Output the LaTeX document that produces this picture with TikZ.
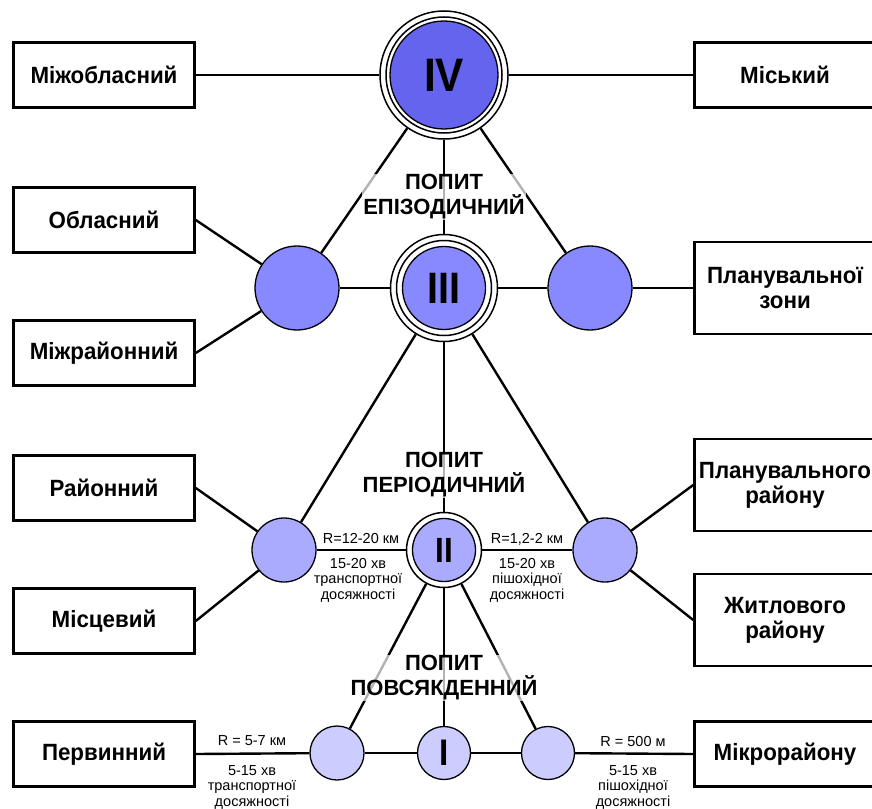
\documentclass[tikz,border=0pt]{standalone}
\usepackage{fontspec}
\setmainfont{Liberation Sans}
\newfontfamily\boxfont[FakeStretch=0.95]{Liberation Sans}
\newfontfamily\romfont[FakeStretch=0.9]{Liberation Sans}
\usetikzlibrary{backgrounds}
\definecolor{cIV}{RGB}{100,100,238}
\definecolor{cIII}{RGB}{136,136,255}
\definecolor{cII}{RGB}{170,170,255}
\definecolor{cI}{RGB}{204,204,255}
\begin{document}
\begin{tikzpicture}[x=1pt,y=-1pt,
  box/.style={draw, line width=2.6pt, fill=white, minimum width=181pt, minimum height=65pt, inner sep=0pt, align=center, font=\boxfont\bfseries\fontsize{23.5}{25}\selectfont},
  tall/.style={minimum height=92pt},
  conn/.style={line width=2.4pt},
  disc/.style={circle, draw, line width=1.3pt, inner sep=0pt},
  ring/.style={circle, draw, line width=1.5pt, fill=white, inner sep=0pt},
  demand/.style={align=center, font=\bfseries\fontsize{22}{25}\selectfont, fill=white, fill opacity=0.7, text opacity=1, inner sep=1pt},
  note/.style={align=center, font=\fontsize{14.5}{15.5}\selectfont, inner sep=0pt},
  roman/.style={font=\romfont\bfseries\fontsize{#1}{#1}\selectfont}
]
\path[use as bounding box] (0,0) rectangle (872,808);

% boxes
\node[box] (mizhobl) at (104,75) {Міжобласний};
\node[box] (misky) at (785,75) {Міський};
\node[box] (oblasny) at (104,220) {Обласний};
\node[box] (mizhrayon) at (104,353) {Міжрайонний};
\node[box,tall] (planzony) at (785,288) {Планувальної\\зони};
\node[box] (rayonny) at (104,488) {Районний};
\node[box] (mistsevy) at (104,621) {Місцевий};
\node[box,tall] (planrayonu) at (785,485) {Планувального\\району};
\node[box,tall] (zhytlovoho) at (785,620) {Житлового\\району};
\node[box] (pervynny) at (104,754) {Первинний};
\node[box] (mikro) at (785,754) {Мікрорайону};

% level IV
\node[ring, minimum size=128pt] (IV) at (444,75) {};
\draw[line width=1.5pt] (IV.center) circle (58pt);
\node[disc, fill=cIV, minimum size=108pt, roman=47] (IVc) at (IV) {IV};

% level III
\node[ring, minimum size=107pt] (III) at (444,288) {};
\draw[line width=1.5pt] (III.center) circle (47.5pt);
\node[disc, fill=cIII, minimum size=83pt, roman=44] (IIIc) at (III) {III};
\node[disc, fill=cIII, minimum size=84pt] (L3) at (297,288) {};
\node[disc, fill=cIII, minimum size=84pt] (R3) at (590,288) {};

% level II
\node[ring, minimum size=75pt] (II) at (444,550) {};
\node[disc, fill=cII, minimum size=63pt, roman=35] (IIc) at (II) {II};
\node[disc, fill=cII, minimum size=64pt] (L2) at (284,550) {};
\node[disc, fill=cII, minimum size=64pt] (R2) at (605,550) {};

% level I
\node[disc, fill=cI, minimum size=53pt, roman=37] (I) at (444,753) {I};
\node[disc, fill=cI, minimum size=54pt] (L1) at (337,753) {};
\node[disc, fill=cI, minimum size=53pt] (R1) at (548,753) {};

% connectors
\begin{scope}[on background layer]
\draw[conn] (IV) -- (mizhobl);
\draw[conn] (IV) -- (misky);
\draw[conn] (IV) -- (L3);
\draw[conn] (IV) -- (R3);
\draw[conn] (IV) -- (III);
\draw[conn] (oblasny.east) -- (L3);
\draw[conn] (mizhrayon.east) -- (L3);
\draw[conn] (L3) -- (III);
\draw[conn] (III) -- (R3);
\draw[conn] (R3) -- (planzony.west);
\draw[conn] (III) -- (L2);
\draw[conn] (III) -- (II);
\draw[conn] (III) -- (R2);
\draw[conn] (rayonny.east) -- (L2);
\draw[conn] (mistsevy.east) -- (L2);
\draw[conn] (L2) -- (II);
\draw[conn] (II) -- (R2);
\draw[conn] (R2) -- (planrayonu.west);
\draw[conn] (R2) -- (zhytlovoho.west);
\draw[conn] (II) -- (L1);
\draw[conn] (II) -- (I);
\draw[conn] (II) -- (R1);
\draw[conn] (pervynny.east) -- (L1);
\draw[conn] (L1) -- (I);
\draw[conn] (I) -- (R1);
\draw[conn] (R1) -- (mikro.west);
\end{scope}

% demand labels
\node[demand] (d3) at (444,197) {ПОПИТ\\ЕПІЗОДИЧНИЙ};
\node[demand] (d2) at (444,475) {ПОПИТ\\ПЕРІОДИЧНИЙ};
\node[demand] (d1) at (444,678) {ПОПИТ\\ПОВСЯКДЕННИЙ};

% notes
\node[note] (n2a) at (361,539) {R=12-20 км};
\node[note] (n2b) at (358,580) {15-20 хв\\транспортної\\досяжності};
\node[note] (n2c) at (527,539) {R=1,2-2 км};
\node[note] (n2d) at (527,580) {15-20 хв\\пішохідної\\досяжності};
\node[note] (n1a) at (252,741) {R = 5-7 км};
\node[note] (n1b) at (252,787) {5-15 хв\\транспортної\\досяжності};
\node[note] (n1c) at (633,741) {R = 500 м};
\node[note] (n1d) at (633,787) {5-15 хв\\пішохідної\\досяжності};
\end{tikzpicture}
\end{document}
